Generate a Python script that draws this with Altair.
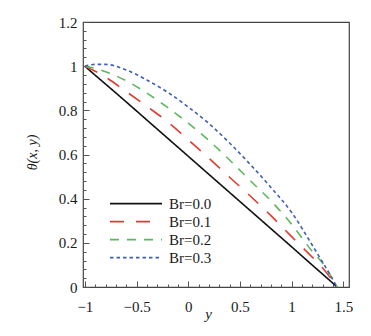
import altair as alt
import pandas as pd

# positions along y (horizontal axis)
y_pos = [-1.0, -0.9, -0.8, -0.6, -0.4, -0.2, 0.0, 0.2, 0.4, 0.6, 0.8, 1.0, 1.2, 1.3, 1.44]

theta_br00 = [1.0, 0.959, 0.919, 0.838, 0.756, 0.674, 0.592, 0.510, 0.428, 0.346, 0.264, 0.182, 0.099, 0.058, 0.0]
theta_br01 = [1.0, 0.977, 0.950, 0.885, 0.818, 0.748, 0.667, 0.583, 0.497, 0.412, 0.323, 0.228, 0.135, 0.086, 0.0]
theta_br02 = [1.0, 0.990, 0.975, 0.934, 0.878, 0.813, 0.742, 0.663, 0.575, 0.482, 0.390, 0.284, 0.161, 0.108, 0.0]
theta_br03 = [1.0, 1.008, 1.008, 0.983, 0.937, 0.882, 0.815, 0.740, 0.652, 0.555, 0.451, 0.338, 0.189, 0.112, 0.0]

series_names = ["Br=0.0", "Br=0.1", "Br=0.2", "Br=0.3"]
series_colors = ["#111111", "#e03c31", "#5cb85c", "#3f5fb5"]
series_dashes = [[1, 0], [14, 12], [9, 8], [3.5, 3]]

x_major = [-1, -0.5, 0, 0.5, 1, 1.5]
x_minor = [round(-1 + 0.1 * i, 2) for i in range(26)]
y_major = [0, 0.2, 0.4, 0.6, 0.8, 1.0, 1.2]
y_minor = [round(0.04 * i, 2) for i in range(31)]

rows = []
for name, vals in zip(series_names, [theta_br00, theta_br01, theta_br02, theta_br03]):
    for xv, tv in zip(y_pos, vals):
        rows.append({"y": xv, "theta": tv, "series": name})
df = pd.DataFrame(rows)

W, H = 266, 265
xdom = [-1.018, 1.555]
ydom = [0, 1.2]
FONT = "Liberation Serif"
TICK = "#555555"
TXT = "#1a1a1a"


def xs(axis):
    return alt.X("y:Q", scale=alt.Scale(domain=xdom, nice=False, zero=False), axis=axis)


def ys(axis):
    return alt.Y("theta:Q", scale=alt.Scale(domain=ydom, nice=False, zero=False), axis=axis)


legend = alt.Legend(
    title=None, orient="none", legendX=26, legendY=173,
    symbolType="stroke", symbolSize=2704, symbolStrokeWidth=1.6,
    labelFont=FONT, labelFontSize=15, labelColor=TXT, labelOffset=6,
    clipHeight=17.3, rowPadding=0, padding=0,
)

lines = alt.Chart(df).mark_line(strokeWidth=1.6, interpolate="monotone").encode(
    x=xs(alt.Axis(orient="bottom", values=x_major, format="~g", ticks=False, domain=False,
                  grid=False, labelPadding=12, labelFont=FONT, labelFontSize=15, labelColor=TXT,
                  title="y", titleFont=FONT, titleFontStyle="italic", titleFontWeight="normal",
                  titleFontSize=15, titleColor=TXT, titleX=125, titleY=31,
                  titleBaseline="alphabetic", titleAlign="center")),
    y=ys(alt.Axis(orient="left", values=y_major, format="~g", ticks=False, domain=False,
                  grid=False, labelPadding=6, labelFont=FONT, labelFontSize=15, labelColor=TXT,
                  title="θ(x, y)", titleFont=FONT, titleFontStyle="italic", titleFontWeight="normal",
                  titleFontSize=14, titleColor=TXT, titleX=-51, titleY=130, titleAngle=270,
                  titleAlign="center", titleBaseline="middle")),
    color=alt.Color("series:N", scale=alt.Scale(domain=series_names, range=series_colors), legend=legend),
    strokeDash=alt.StrokeDash("series:N", scale=alt.Scale(domain=series_names, range=series_dashes), legend=legend),
)

major_ticks = alt.Chart(df).mark_point(opacity=0).encode(
    x=xs(alt.Axis(orient="top", offset=-H, values=x_major, labels=False, domain=False, grid=False,
                  tickSize=6, tickColor=TICK, tickWidth=1, title=None)),
    y=ys(alt.Axis(orient="right", offset=-W, values=y_major, labels=False, domain=False, grid=False,
                  tickSize=6, tickColor=TICK, tickWidth=1, title=None)),
)

minor_ticks = alt.Chart(df).mark_point(opacity=0).encode(
    x=xs(alt.Axis(orient="top", offset=-H, values=x_minor, labels=False, domain=False, grid=False,
                  tickSize=3, tickColor=TICK, tickWidth=1, title=None)),
    y=ys(alt.Axis(orient="right", offset=-W, values=y_minor, labels=False, domain=False, grid=False,
                  tickSize=3, tickColor=TICK, tickWidth=1, title=None)),
)

chart = alt.layer(lines, major_ticks, minor_ticks).resolve_scale(
    x="independent", y="independent"
).resolve_axis(
    x="independent", y="independent"
).properties(
    width=W, height=H,
    autosize=alt.AutoSizeParams(type="none"),
    padding={"left": 83, "top": 22, "right": 22, "bottom": 49},
    background="white",
).configure_view(
    stroke="#444444", strokeWidth=1.2
)

chart.save("out.html", embed_options={"renderer": "svg", "actions": False})
